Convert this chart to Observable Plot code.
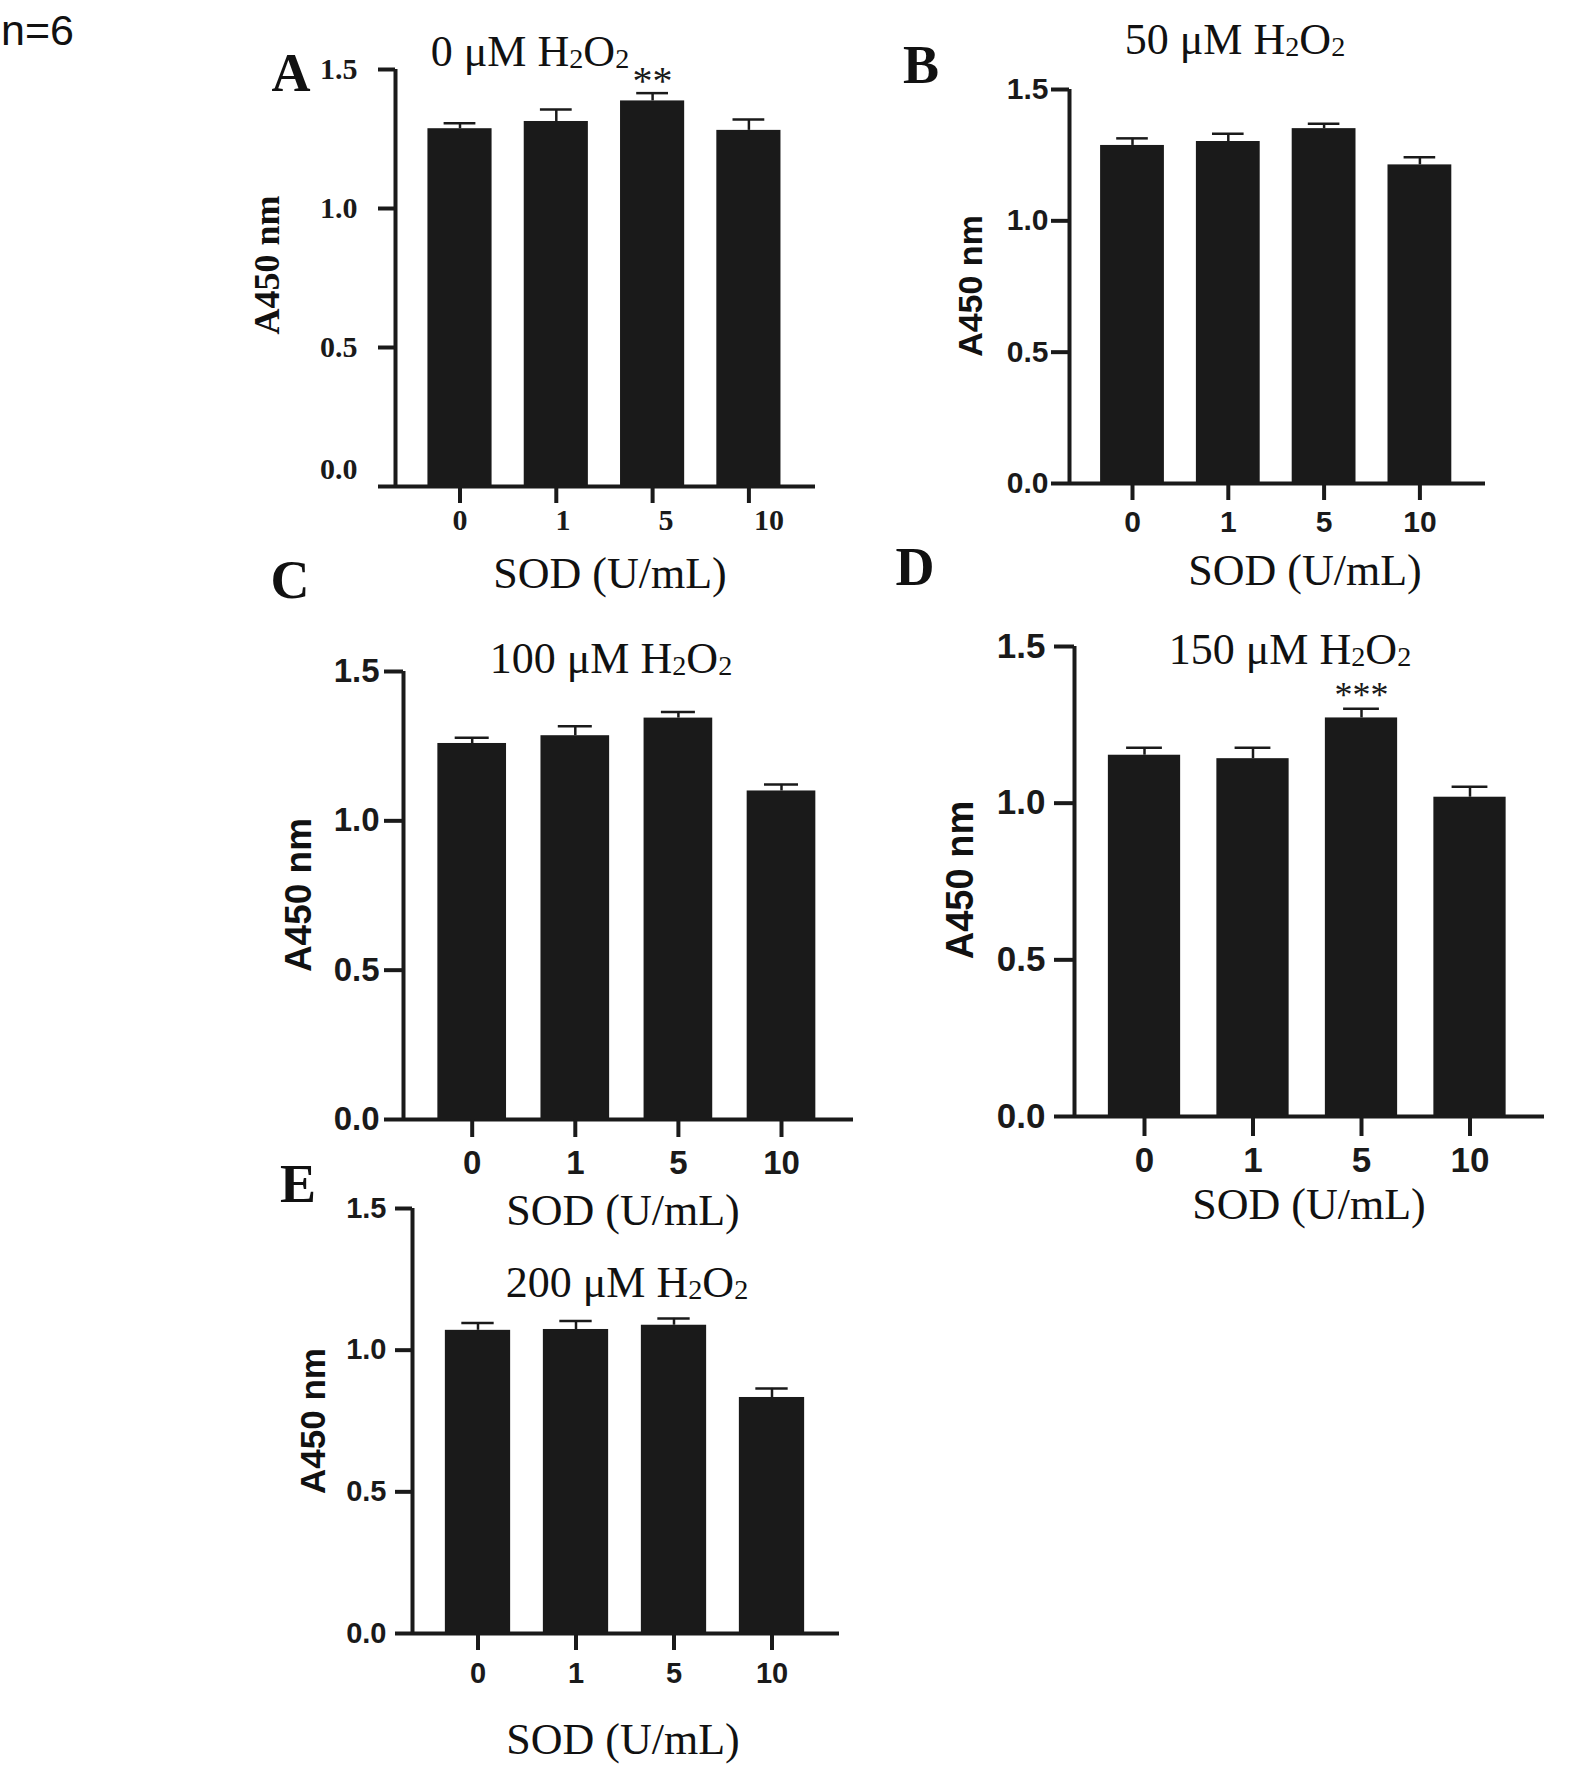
<!DOCTYPE html>
<html>
<head>
<meta charset="utf-8">
<script src="https://cdn.jsdelivr.net/npm/d3@7"></script>
<script src="https://cdn.jsdelivr.net/npm/@observablehq/plot@0.6"></script>
<style>
  body { margin: 0; background: #fff; }
  #page { position: relative; width: 1594px; height: 1766px; overflow: hidden; background: #fff; }
  #page svg { position: absolute; left: 0; top: 0; }
  .t { position: absolute; white-space: nowrap; line-height: 1; color: #111; transform: translate(-50%, -50%); }
  .title { line-height: 0.75; }
  .serif { font-family: "Liberation Serif", "Times New Roman", serif; }
  .sans { font-family: "Liberation Sans", Arial, sans-serif; }
  .bold { font-weight: bold; }
  .rot { transform: translate(-50%, -50%) rotate(-90deg); }
  .sub { font-size: 0.64em; vertical-align: -0.04em; }
</style>
</head>
<body>
<div id="page"></div>
<script>
// ---- data ----
const sodLevels = ["0", "1", "5", "10"];
const yTicks = [0, 0.5, 1.0, 1.5];
const h2o2Levels = ["0", "50", "100", "150", "200"];
const panelLetters = ["A", "B", "C", "D", "E"];

const meansA = [1.287, 1.313, 1.387, 1.281];
const errorsA = [0.020, 0.043, 0.028, 0.039];
const starsA = ["", "", "**", ""];

const meansB = [1.287, 1.302, 1.351, 1.213];
const errorsB = [0.027, 0.030, 0.019, 0.029];

const meansC = [1.259, 1.285, 1.344, 1.100];
const errorsC = [0.019, 0.032, 0.020, 0.022];

const meansD = [1.153, 1.142, 1.272, 1.019];
const errorsD = [0.024, 0.035, 0.029, 0.033];
const starsD = ["", "", "***", ""];

const meansE = [1.070, 1.073, 1.088, 0.833];
const errorsE = [0.026, 0.030, 0.024, 0.032];

// ---- layout (pixels on the 1594x1766 page) ----
const W = 1594, H = 1766;
const INK = "#1a1a1a";
const SERIF = "Liberation Serif, Times New Roman, serif";
const SANS = "Liberation Sans, Arial, sans-serif";

const panels = [
  {means: meansA, errors: errorsA, stars: starsA,
   frame: {left: 395, right: 815, top: 69, bottom: 486, c0: 459.5, step: 96.3},
   tickFont: SERIF, yFont: 30, xFont: 30, yTick: 17, yPad: 21, xTick: 17, xPad: 5, zeroDy: -17,
   starDy: -12, starSize: 40, labelStretch: 1.07,
   title: {x: 530, y: 52}, letter: {x: 291, y: 73}, ylab: {x: 267, y: 265, size: 36, serif: true},
   xlab: {x: 610, y: 574}},
  {means: meansB, errors: errorsB, stars: null,
   frame: {left: 1069, right: 1485, top: 89, bottom: 483, c0: 1132, step: 95.8},
   tickFont: SANS, yFont: 30, xFont: 30, yTick: 18, yPad: 3, xTick: 17, xPad: 10,
   title: {x: 1235, y: 40}, letter: {x: 921, y: 65}, ylab: {x: 970, y: 286, size: 34},
   xlab: {x: 1305, y: 571}},
  {means: meansC, errors: errorsC, stars: null,
   frame: {left: 403, right: 853, top: 671, bottom: 1119, c0: 471.7, step: 103.1},
   tickFont: SANS, yFont: 33, xFont: 33, yTick: 19, yPad: 5, xTick: 18, xPad: 13,
   title: {x: 611, y: 659}, letter: {x: 290, y: 580}, ylab: {x: 298, y: 895, size: 37},
   xlab: {x: 623, y: 1211}},
  {means: meansD, errors: errorsD, stars: starsD,
   frame: {left: 1074, right: 1544, top: 646, bottom: 1116, c0: 1144, step: 108.5},
   tickFont: SANS, yFont: 35, xFont: 35, yTick: 20, yPad: 9, xTick: 20, xPad: 11,
   starDy: -13, starSize: 36,
   title: {x: 1290, y: 650}, letter: {x: 915, y: 567}, ylab: {x: 960, y: 880, size: 38},
   xlab: {x: 1309, y: 1205}},
  {means: meansE, errors: errorsE, stars: null,
   frame: {left: 412, right: 839, top: 1208, bottom: 1633, c0: 477.5, step: 98},
   tickFont: SANS, yFont: 29, xFont: 29, yTick: 17, yPad: 9, xTick: 17, xPad: 12,
   title: {x: 627, y: 1283}, letter: {x: 298, y: 1184}, ylab: {x: 312, y: 1421, size: 35},
   xlab: {x: 623, y: 1740}}
];

const page = document.getElementById("page");

function addText(html, x, y, cls, size, extra) {
  const el = document.createElement("div");
  el.className = "t " + cls;
  el.style.left = x + "px";
  el.style.top = y + "px";
  el.style.fontSize = size + "px";
  if (extra) Object.assign(el.style, extra);
  el.innerHTML = html;
  page.appendChild(el);
  return el;
}

panels.forEach((p, k) => {
  const F = p.frame;
  const data = sodLevels.map((s, i) => ({
    i, sod: s, mean: p.means[i], err: p.errors[i], star: p.stars ? p.stars[i] : ""
  }));
  const xDomain = [(F.left - F.c0) / F.step, (F.right - F.c0) / F.step];
  const fontWeight = "bold";
  const marks = [
    Plot.rect(data, {x1: d => d.i - 0.333, x2: d => d.i + 0.333, y1: 0, y2: "mean", fill: INK}),
    Plot.ruleX(data, {x: "i", y1: "mean", y2: d => d.mean + d.err, stroke: INK, strokeWidth: 2.5}),
    Plot.ruleY(data, {y: d => d.mean + d.err, x1: d => d.i - 0.165, x2: d => d.i + 0.165, stroke: INK, strokeWidth: 2.5}),
    Plot.ruleX([xDomain[0]], {y1: 0, y2: 1.5, stroke: INK, strokeWidth: 4}),
    Plot.ruleY([0], {x1: xDomain[0], x2: xDomain[1], stroke: INK, strokeWidth: 4})
  ];
  if (p.labelStretch) {
    // tick marks only, labels drawn separately (the reference's labels drift right of their ticks)
    marks.push(Plot.axisX({ticks: [0, 1, 2, 3], tickFormat: () => "", tickSize: p.xTick,
      strokeWidth: 4, color: INK, label: null}));
    marks.push(Plot.text(data, {x: d => d.i * p.labelStretch, y: 0, text: "sod", lineAnchor: "top",
      dy: p.xTick + p.xPad, fontSize: p.xFont, fontWeight, fontFamily: p.tickFont, fill: INK}));
  } else {
    marks.push(Plot.axisX({ticks: [0, 1, 2, 3], tickFormat: d => sodLevels[d], tickSize: p.xTick, tickPadding: p.xPad,
      strokeWidth: 4, color: INK, fontSize: p.xFont, fontWeight, fontFamily: p.tickFont, label: null}));
  }
  if (p.zeroDy) {
    marks.push(Plot.axisY({ticks: yTicks.filter(t => t > 0), tickFormat: d3.format(".1f"), tickSize: p.yTick, tickPadding: p.yPad,
      strokeWidth: 4, color: INK, fontSize: p.yFont, fontWeight, fontFamily: p.tickFont, label: null}));
    marks.push(Plot.axisY({ticks: [0], tickFormat: d3.format(".1f"), tickSize: 0, tickPadding: p.yTick + p.yPad,
      dy: p.zeroDy, color: INK, fontSize: p.yFont, fontWeight, fontFamily: p.tickFont, label: null}));
    marks.push(Plot.ruleY([0], {x1: xDomain[0] - p.yTick / F.step, x2: xDomain[0], stroke: INK, strokeWidth: 4}));
  } else {
    marks.push(Plot.axisY({ticks: yTicks, tickFormat: d3.format(".1f"), tickSize: p.yTick, tickPadding: p.yPad,
      strokeWidth: 4, color: INK, fontSize: p.yFont, fontWeight, fontFamily: p.tickFont, label: null}));
  }
  if (p.stars) {
    marks.push(Plot.text(data.filter(d => d.star), {x: "i", y: d => d.mean + d.err, text: "star", dy: p.starDy,
      fontSize: p.starSize, fontFamily: SERIF, fill: INK}));
  }
  const svg = Plot.plot({
    width: W, height: H,
    marginLeft: F.left, marginRight: W - F.right, marginTop: F.top, marginBottom: H - F.bottom,
    x: {domain: xDomain},
    y: {domain: [0, 1.5]},
    style: {background: "transparent", overflow: "visible"},
    marks
  });
  page.appendChild(svg);

  // annotations
  addText(`${h2o2Levels[k]} μM H<span class="sub">2</span>O<span class="sub">2</span>`, p.title.x, p.title.y, "serif title", 44);
  addText(panelLetters[k], p.letter.x, p.letter.y, "serif bold", 54);
  addText("A450 nm", p.ylab.x, p.ylab.y, (p.ylab.serif ? "serif" : "sans") + " bold rot", p.ylab.size);
  addText("SOD (U/mL)", p.xlab.x, p.xlab.y, "serif", 44);
});

addText("n=6", 1, 30, "sans", 43, {transform: "translate(0, -50%)"});
</script>
</body>
</html>
